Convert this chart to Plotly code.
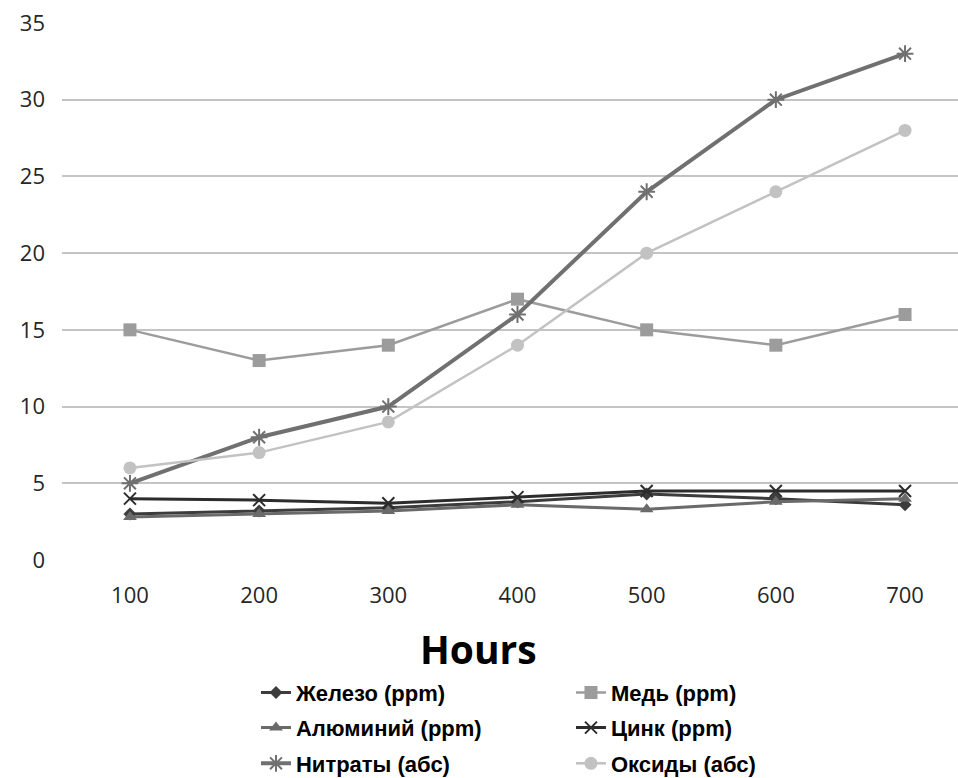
import plotly.graph_objects as go

hours = [100, 200, 300, 400, 500, 600, 700]
iron = [3.0, 3.2, 3.4, 3.8, 4.3, 4.0, 3.6]
copper = [15, 13, 14, 17, 15, 14, 16]
aluminum = [2.8, 3.0, 3.2, 3.6, 3.3, 3.8, 4.0]
zinc = [4.0, 3.9, 3.7, 4.1, 4.5, 4.5, 4.5]
nitrates = [5, 8, 10, 16, 24, 30, 33]
oxides = [6, 7, 9, 14, 20, 24, 28]

y_ticks = [0, 5, 10, 15, 20, 25, 30, 35]

series = [
    ("Железо (ppm)", iron, "#3c3c3c", 3, "diamond", 10, "legend"),
    ("Медь (ppm)", copper, "#9c9c9c", 2.5, "square", 13, "legend"),
    ("Алюминий (ppm)", aluminum, "#6a6a6a", 3, "triangle-up", 12, "legend2"),
    ("Цинк (ppm)", zinc, "#2c2c2c", 3, "x-thin-open", 12, "legend2"),
    ("Нитраты (абс)", nitrates, "#707070", 4, "asterisk-open", 14, "legend3"),
    ("Оксиды (абс)", oxides, "#c2c2c2", 2.5, "circle", 13, "legend3"),
]

fig = go.Figure()
for name, vals, col, lw, sym, ms, lg in series:
    mk = dict(symbol=sym, size=ms, color=col)
    if sym.endswith("open"):
        mk["line"] = dict(color=col, width=2)
    fig.add_trace(go.Scatter(
        x=hours, y=vals, name=name, mode="lines+markers",
        line=dict(color=col, width=lw), marker=mk, legend=lg,
    ))

legend_common = dict(
    orientation="h", xanchor="left", yanchor="middle",
    font=dict(family="Liberation Sans", size=22, color="#000000", weight="bold"),
    entrywidth=270, entrywidthmode="pixels", bgcolor="rgba(0,0,0,0)",
)

fig.update_layout(
    width=958, height=778,
    margin=dict(l=62, r=0, t=23, b=218, autoexpand=False),
    paper_bgcolor="white", plot_bgcolor="white",
    showlegend=True,
    xaxis=dict(
        range=[47.4, 741], tickvals=hours, ticktext=[str(h) for h in hours],
        showgrid=False, zeroline=False, showline=False, automargin=False,
        tickfont=dict(family="Open Sans", size=22, color="#262626"),
        ticks="", ticklabelstandoff=20,
    ),
    yaxis=dict(
        range=[0, 35], tickvals=y_ticks, automargin=False,
        showgrid=True, gridcolor="#c4c4c4", gridwidth=2,
        zeroline=False, showline=False,
        tickfont=dict(family="Open Sans", size=22, color="#262626"),
        ticks="", ticklabelstandoff=16,
    ),
    legend=dict(x=0.2165, y=-0.247, **legend_common),
    legend2=dict(x=0.2165, y=-0.3125, **legend_common),
    legend3=dict(x=0.2165, y=-0.379, **legend_common),
    annotations=[dict(
        text="<b>Hours</b>", x=0.465, y=-0.1645, xref="paper", yref="paper",
        xanchor="center", yanchor="middle", showarrow=False,
        font=dict(family="Open Sans", size=39, color="#000000"),
    )],
)

fig.write_html("out.html")
